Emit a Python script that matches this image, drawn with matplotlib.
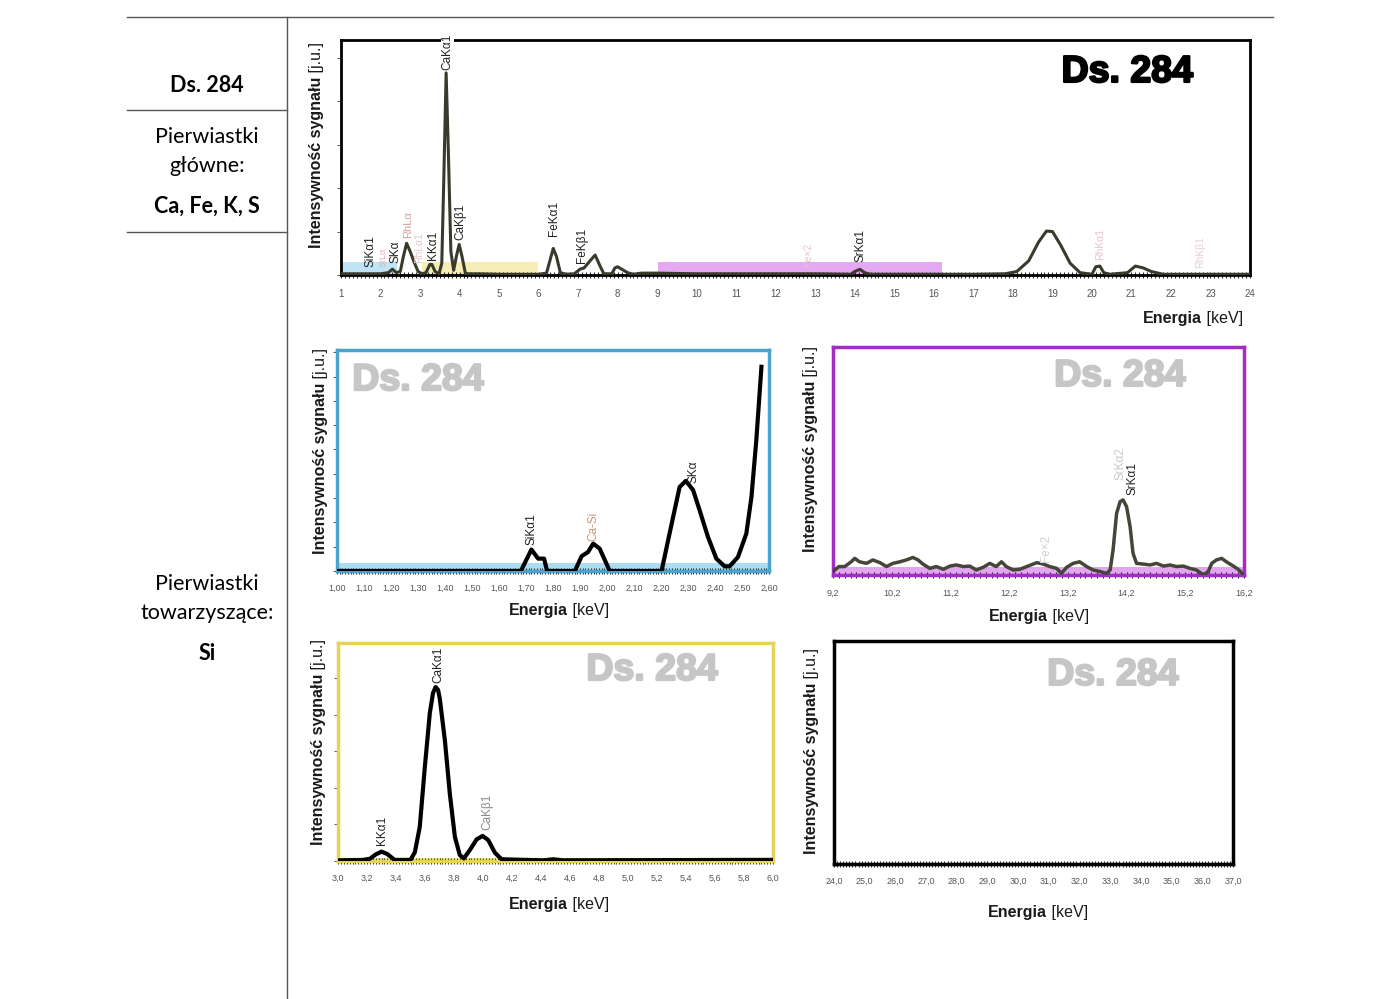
import matplotlib
matplotlib.use('Agg')
import matplotlib.pyplot as plt
import matplotlib.patheffects as pe
from matplotlib.lines import Line2D
from matplotlib.ticker import MultipleLocator

plt.rcParams['font.family'] = ['Liberation Sans', 'DejaVu Sans']

W, H = 1400, 999

# widmo ogólne 1-24 keV (intensywność w % wysokości osi)
main_e = [1.0, 1.5, 2.0, 2.2, 2.3, 2.4, 2.5, 2.58, 2.66, 2.75,
          2.85, 2.95, 3.05, 3.15, 3.25, 3.3, 3.38, 3.48, 3.55, 3.6,
          3.66, 3.72, 3.78, 3.85, 3.92, 3.99, 4.06, 4.15, 4.5, 5.0,
          5.5, 6.0, 6.2, 6.3, 6.37, 6.45, 6.55, 6.7, 6.9, 7.05,
          7.15, 7.3, 7.43, 7.55, 7.65, 7.85, 7.93, 8.0, 8.1, 8.25,
          8.4, 8.6, 9.0, 10.0, 11.0, 12.0, 13.0, 13.9, 14.0, 14.13,
          14.25, 14.4, 15.0, 16.0, 17.0, 17.8, 18.1, 18.4, 18.65, 18.85,
          19.0, 19.2, 19.45, 19.7, 20.0, 20.1, 20.2, 20.3, 20.45, 20.9,
          21.1, 21.3, 21.5, 21.8, 23.0, 24.0]
main_i = [0.5, 0.5, 0.5, 1.0, 2.5, 1.0, 1.5, 8.0, 13.5, 10.0,
          5.5, 1.5, 0.5, 1.0, 4.5, 4.5, 1.5, 0.5, 5.0, 40.0,
          86.0, 50.0, 10.0, 2.0, 8.0, 13.0, 8.0, 0.5, 0.5, 0.3,
          0.3, 0.3, 0.8, 7.0, 11.3, 8.0, 1.0, 0.3, 0.5, 2.5,
          3.0, 6.0, 8.5, 4.0, 0.5, 0.5, 3.0, 3.5, 2.5, 1.0,
          0.3, 0.8, 0.8, 0.5, 0.5, 0.5, 0.5, 0.3, 1.5, 2.4,
          1.0, 0.3, 0.3, 0.3, 0.3, 0.5, 1.5, 6.0, 14.0, 18.7,
          18.5, 13.0, 5.0, 1.0, 0.3, 3.5, 3.8, 1.0, 0.3, 1.0,
          3.8, 3.0, 1.5, 0.3, 0.3, 0.3]
main_ticks = list(range(1, 25))
main_bands = [(1.05, 2.42, '#bfe4f6'), (3.04, 5.99, '#f6edb6'), (9.03, 16.2, '#e4a9f2')]
main_labels = [('SiKα1', 1.74, 3.4, '#222222', 8.5), ('SrLα', 2.06, 3.4, '#e0b0b8', 6.5),
               ('SKα', 2.37, 5.1, '#222222', 8.5), ('RhLα', 2.70, 15.7, '#d8a0a0', 8),
               ('RhLα1', 2.98, 5.1, '#e6c4c8', 7.5), ('KKα1', 3.32, 6.4, '#222222', 8.5),
               ('CaKβ1', 4.02, 14.9, '#222222', 8.5), ('FeKα1', 6.40, 16.6, '#222222', 8.5),
               ('FeKβ1', 7.10, 5.1, '#222222', 8.5), ('Fe×2', 12.82, 3.4, '#e6c4c8', 7.5),
               ('SrKα1', 14.15, 5.5, '#222222', 8.5), ('RhKα1', 20.20, 6.4, '#e6c4c8', 7.5),
               ('RhKβ1', 22.75, 3.0, '#ead0d4', 7.5)]

# zakres 1,00-2,60 keV (Si, S)
si_e = [1.00, 1.681, 1.72, 1.745, 1.767, 1.778, 1.881, 1.906, 1.930, 1.949,
        1.973, 2.010, 2.202, 2.245, 2.269, 2.292, 2.319, 2.343, 2.374, 2.405,
        2.436, 2.454, 2.485, 2.516, 2.535, 2.553, 2.572]
si_i = [0, 0, 9.7, 5.6, 5.6, 0, 0, 6.7, 8.6, 12.4,
        10.1, 0, 0, 24.5, 38.0, 40.8, 36.6, 27.5, 15.4, 5.6,
        2.1, 2.1, 6.3, 16.9, 33.5, 59.2, 92.4]
si_ticks = [1.00, 1.10, 1.20, 1.30, 1.40, 1.50, 1.60, 1.70, 1.80,
            1.90, 2.00, 2.10, 2.20, 2.30, 2.40, 2.50, 2.60]
si_labels = [('SiKα1', 1.72, 11.6, '#222222', 8.5), ('Ca-Si', 1.95, 13.5, '#c9987c', 8.5),
             ('SKα', 2.32, 40.0, '#222222', 8.5)]

# zakres 9,2-16,2 keV (Sr)
sr_e = [9.20, 9.30, 9.40, 9.51, 9.57, 9.65, 9.77, 9.88, 10.00, 10.11,
        10.22, 10.34, 10.45, 10.56, 10.65, 10.73, 10.85, 10.96, 11.08, 11.19,
        11.30, 11.42, 11.53, 11.64, 11.76, 11.87, 11.98, 12.07, 12.15, 12.27,
        12.38, 12.50, 12.67, 12.78, 12.89, 13.01, 13.09, 13.18, 13.29, 13.40,
        13.52, 13.63, 13.75, 13.86, 13.92, 13.97, 14.03, 14.09, 14.14, 14.20,
        14.26, 14.31, 14.37, 14.48, 14.60, 14.71, 14.83, 14.94, 15.05, 15.17,
        15.28, 15.39, 15.51, 15.59, 15.65, 15.73, 15.82, 15.90, 16.02, 16.10,
        16.20]
sr_i = [1.5, 3.7, 3.7, 5.8, 7.3, 5.8, 5.1, 6.6, 5.4, 3.7,
        5.1, 5.8, 6.6, 7.7, 6.6, 4.8, 2.9, 3.7, 2.5, 3.9,
        4.4, 3.7, 3.9, 2.2, 3.4, 5.1, 3.7, 5.8, 3.7, 2.2,
        2.5, 3.7, 5.4, 4.8, 3.7, 2.9, 0.7, 3.4, 5.1, 5.8,
        3.7, 2.2, 1.5, 0.7, 2.2, 11.0, 27.0, 32.2, 32.9, 30.0,
        21.2, 9.5, 5.1, 4.8, 4.4, 5.1, 3.9, 4.4, 3.7, 3.9,
        2.9, 2.2, 0.0, 1.5, 5.1, 6.6, 7.3, 5.8, 3.9, 2.5,
        0.0]
sr_ticks = [9.2, 10.2, 11.2, 12.2, 13.2, 14.2, 15.2, 16.2]
sr_labels = [('Fe×2', 12.82, 5.7, '#d0d0d0', 8.5), ('SrKα2', 14.10, 41.7, '#c8c8c8', 8.5),
             ('SrKα1', 14.30, 35.0, '#222222', 8.5)]

# zakres 3,0-6,0 keV (K, Ca)
ca_e = [3.0, 3.17, 3.219, 3.26, 3.30, 3.34, 3.39, 3.50, 3.53, 3.564,
        3.599, 3.633, 3.655, 3.673, 3.69, 3.702, 3.737, 3.771, 3.806, 3.840,
        3.868, 3.909, 3.956, 3.997, 4.036, 4.082, 4.128, 4.416, 4.485, 4.554,
        5.798, 6.0]
ca_i = [0.3, 0.5, 1.0, 3.0, 4.3, 3.2, 0.5, 0.5, 4.0, 15.7,
        43.2, 67.7, 77.0, 79.8, 78.5, 74.5, 55.4, 31.0, 11.1, 2.7,
        1.2, 5.0, 9.9, 11.5, 9.6, 3.8, 0.8, 0.3, 0.8, 0.3,
        0.5, 0.5]
ca_ticks = [3.0, 3.2, 3.4, 3.6, 3.8, 4.0, 4.2, 4.4, 4.6, 4.8, 5.0,
            5.2, 5.4, 5.6, 5.8, 6.0]
ca_labels = [('KKα1', 3.30, 7.3, '#222222', 8.5), ('CaKα1', 3.69, 81.5, '#222222', 8.5),
             ('CaKβ1', 4.03, 14.2, '#8a8a8a', 8.5)]

# zakres 24-37 keV (brak sygnału)
hi_ticks = [24.0, 25.0, 26.0, 27.0, 28.0, 29.0, 30.0, 31.0, 32.0, 33.0,
            34.0, 35.0, 36.0, 37.0]

fig = plt.figure(figsize=(W / 100, H / 100), dpi=100)


def px_axes(l, t, r, b):
    return fig.add_axes([l / W, 1 - b / H, (r - l) / W, (b - t) / H])


def ftext(x, y, s, **kw):
    return fig.text(x / W, 1 - y / H, s, **kw)


def comma(vals, nd):
    return [f'{v:.{nd}f}'.replace('.', ',') for v in vals]


def setup(ax, xlim, ticks, ticklabels, minor, frame, lw, pad, ystep, fs=6.5):
    ax.set_xlim(*xlim)
    ax.set_ylim(0, 100)
    ax.set_xticks(ticks)
    ax.set_xticklabels(ticklabels)
    ax.xaxis.set_minor_locator(MultipleLocator(minor))
    ax.tick_params(axis='x', which='both', direction='inout', length=4, width=0.8,
                   color='#2a2a2a', labelsize=fs, labelcolor='#555555', pad=pad)
    if ystep:
        ax.yaxis.set_major_locator(MultipleLocator(ystep))
        ax.tick_params(axis='y', direction='out', length=3, width=0.7, color='#555555',
                       labelleft=False)
    else:
        ax.set_yticks([])
    for sp in ax.spines.values():
        sp.set_color(frame)
        sp.set_linewidth(lw)


def xlab(split_x, y):
    ftext(split_x, y, 'Energia', ha='right', va='baseline', fontsize=11.5,
          fontweight='bold', color='#1a1a1a')
    ftext(split_x, y, ' [keV]', ha='left', va='baseline', fontsize=11.5, color='#1a1a1a')


def ylab(x, split_y):
    ftext(x, split_y, 'Intensywność sygnału', rotation=90, ha='center', va='top',
          fontsize=11.5, fontweight='bold', color='#1a1a1a')
    ftext(x, split_y, ' [j.u.]', rotation=90, ha='center', va='bottom',
          fontsize=11.5, color='#1a1a1a')


def peak_labels(ax, labels):
    for txt, x, y, c, fs in labels:
        ax.text(x, y, txt, rotation=90, ha='center', va='bottom', fontsize=fs,
                color=c, clip_on=False)


def mark(ax, x, y, color):
    ax.text(x, y, 'Ds. 284', transform=ax.transAxes, ha='center', va='center',
            fontsize=27, fontweight='bold', color=color,
            path_effects=[pe.withStroke(linewidth=1.6, foreground=color)])


# --- tabela po lewej
fig.add_artist(Line2D([127 / W, 1273 / W], [1 - 17 / H, 1 - 17 / H], color='#555555', lw=1))
fig.add_artist(Line2D([287 / W, 287 / W], [1 - 17 / H, 0], color='#555555', lw=1))
for yy in (110, 232):
    fig.add_artist(Line2D([127 / W, 287 / W], [1 - yy / H, 1 - yy / H], color='#555555', lw=1))

lf = ['Lato', 'DejaVu Sans']
ftext(207, 85, 'Ds. 284', ha='center', va='center', fontsize=15.5, fontweight='bold', family=lf)
ftext(207, 137, 'Pierwiastki', ha='center', va='center', fontsize=15.5, family=lf)
ftext(207, 166, 'główne:', ha='center', va='center', fontsize=15.5, family=lf)
ftext(207, 206, 'Ca, Fe, K, S', ha='center', va='center', fontsize=15.5, fontweight='bold', family=lf)
ftext(207, 584, 'Pierwiastki', ha='center', va='center', fontsize=15.5, family=lf)
ftext(207, 613, 'towarzyszące:', ha='center', va='center', fontsize=15.5, family=lf)
ftext(207, 653, 'Si', ha='center', va='center', fontsize=15.5, fontweight='bold', family=lf)

# --- widmo ogólne
ax = px_axes(341, 40, 1250, 275)
for x0, x1, c in main_bands:
    ax.fill_between([x0, x1], 0, 5.5, color=c, lw=0, zorder=1)
ax.plot(main_e, main_i, color='#3a3a2c', lw=2.2, zorder=3)
setup(ax, (1, 24), main_ticks, [str(t) for t in main_ticks], 0.1, 'black', 2, 8, 18.5, fs=7)
peak_labels(ax, main_labels)
ax.text(3.70, 87.2, 'CaKα1', rotation=90, ha='center', va='bottom', fontsize=8.5,
        color='#222222', clip_on=False, zorder=5,
        bbox=dict(fc='white', ec='none', pad=0.5))
mark(ax, 0.865, 0.864, 'black')
xlab(1202, 323)
ylab(316, 77)

# --- Si / S
ax = px_axes(337, 350, 769, 571)
ax.fill_between([1.0, 2.6], 0, 3.5, color='#aadcf2', lw=0, zorder=1)
ax.plot(si_e, si_i, color='black', lw=3, zorder=3, solid_joinstyle='round')
setup(ax, (1.0, 2.6), si_ticks, comma(si_ticks, 2), 0.01, '#4aa3cc', 2.5, 7, 11)
peak_labels(ax, si_labels)
mark(ax, 0.1875, 0.864, '#c6c6c6')
xlab(568, 615)
ylab(320, 383)

# --- Sr
ax = px_axes(833, 347, 1244, 575)
ax.fill_between([9.2, 16.2], 0, 3.6, color='#e2a6f0', lw=0, zorder=1)
ax.plot(sr_e, sr_i, color='#45453a', lw=2.5, zorder=3, solid_joinstyle='round')
setup(ax, (9.2, 16.2), sr_ticks, comma(sr_ticks, 1), 0.1, '#a32cc4', 2.5, 8, None)
peak_labels(ax, sr_labels)
mark(ax, 0.698, 0.873, '#c6c6c6')
xlab(1048, 621)
ylab(810, 381)

# --- K / Ca
ax = px_axes(338, 643, 773, 861)
ax.fill_between([3.0, 6.0], 0, 1.5, color='#f3e79a', lw=0, zorder=1)
ax.plot(ca_e, ca_i, color='black', lw=3, zorder=3, solid_joinstyle='round')
setup(ax, (3.0, 6.0), ca_ticks, comma(ca_ticks, 1), 0.02, '#e6d35a', 2.5, 7, 16.8)
peak_labels(ax, ca_labels)
mark(ax, 0.722, 0.876, '#c6c6c6')
xlab(568, 909)
ylab(318.5, 674)

# --- 24-37 keV
ax = px_axes(834, 641, 1233, 864)
setup(ax, (24.0, 37.0), hi_ticks, comma(hi_ticks, 1), 0.1, 'black', 2.5, 7, None)
mark(ax, 0.699, 0.848, '#c6c6c6')
xlab(1047, 917)
ylab(811.5, 683)

fig.savefig('out.png', dpi=100)
